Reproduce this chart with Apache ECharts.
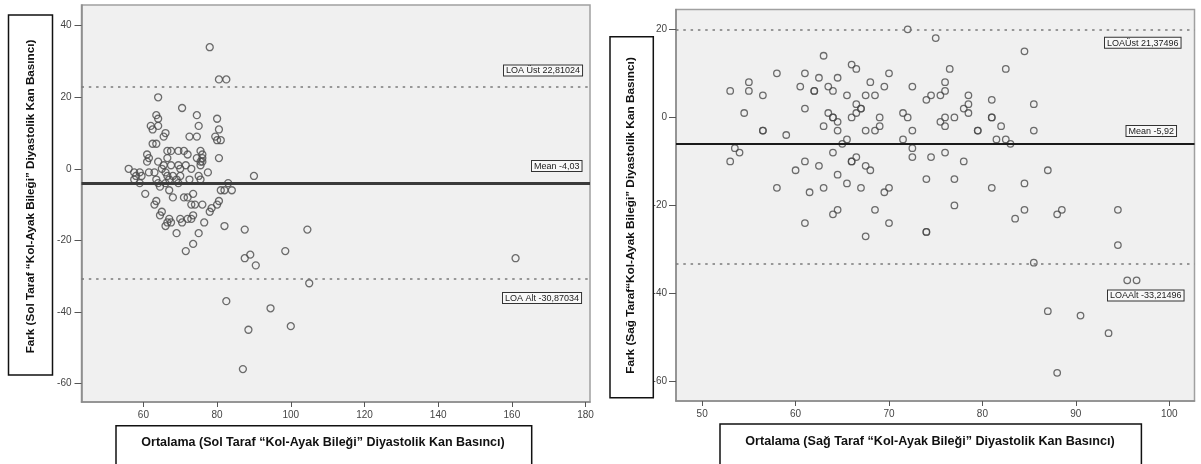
<!DOCTYPE html>
<html><head><meta charset="utf-8">
<script src="https://cdn.jsdelivr.net/npm/echarts@6/dist/echarts.min.js"></script>
<style>html,body{margin:0;padding:0;background:#fff}#c{width:1201px;height:464px}</style>
</head><body><div id="c"></div>
<script>
// ---------- DATA ----------
const leftPoints = [[78,34],[80.5,25],[82.5,25],[64,20],[70.5,17],[63.5,15],[64,14],[74.5,15],[80,14],[62,12],[64,12],[75,12],[62.5,11],[80.5,11],[65.5,9],[66,10],[72.5,9],[74.5,9],[79.5,9],[80,8],[81,8],[62.5,7],[63.5,7],[66.5,5],[67.5,5],[69.5,5],[71,5],[75.5,5],[61,4],[72,4],[76,4],[61.5,3],[66.5,3],[74.5,3],[80.5,3],[76,3],[61,2],[64,2],[75.5,2],[76,2],[65.5,1],[67.5,1],[69.5,1],[71.5,1],[75.5,1],[56,0],[65,0],[70,0],[73,0],[57.5,-1],[59,-1],[61.5,-1],[63,-1],[66,-1],[77.5,-1],[58,-2],[59.5,-2],[66.5,-2],[68,-2],[70,-2],[75,-2],[90,-2],[57.5,-3],[63.5,-3],[67,-3],[69,-3],[72.5,-3],[75.5,-3],[59,-4],[64,-4],[66,-4],[69.5,-4],[83,-4],[64.5,-5],[67,-6],[81,-6],[82,-6],[84,-6],[60.5,-7],[73.5,-7],[68,-8],[71,-8],[72,-8],[63.5,-9],[80.5,-9],[63,-10],[73,-10],[74,-10],[76,-10],[80,-10],[78.5,-11],[78,-12],[65,-12],[64.5,-13],[73.5,-13],[67,-14],[70,-14],[72,-14],[73,-14],[66.5,-15],[67.5,-15],[70.5,-15],[76.5,-15],[66,-16],[82,-16],[69,-18],[75,-18],[73.5,-21],[71.5,-23],[87.5,-17],[104.5,-17],[87.5,-25],[89,-24],[90.5,-27],[98.5,-23],[161,-25],[105,-32],[82.5,-37],[94.5,-39],[100,-44],[88.5,-45],[87,-56]];
const rightPoints = [[72,20],[75,18],[84.5,15],[63,14],[66,12],[66.5,11],[76.5,11],[82.5,11],[58,10],[61,10],[70,10],[62.5,9],[64.5,9],[55,8],[68,8],[76,8],[60.5,7],[63.5,7],[69.5,7],[72.5,7],[53,6],[55,6],[62,6],[62,6],[64,6],[76,6],[56.5,5],[65.5,5],[67.5,5],[68.5,5],[74.5,5],[75.5,5],[78.5,5],[74,4],[81,4],[66.5,3],[78.5,3],[85.5,3],[61,2],[67,2],[67,2],[78,2],[54.5,1],[63.5,1],[66.5,1],[71.5,1],[78.5,1],[64,0],[64,0],[66,0],[69,0],[72,0],[76,0],[77,0],[81,0],[81,0],[64.5,-1],[75.5,-1],[63,-2],[69,-2],[76,-2],[82,-2],[56.5,-3],[56.5,-3],[64.5,-3],[67.5,-3],[68.5,-3],[72.5,-3],[79.5,-3],[79.5,-3],[85.5,-3],[59,-4],[65.5,-5],[71.5,-5],[81.5,-5],[82.5,-5],[65,-6],[83,-6],[53.5,-7],[72.5,-7],[54,-8],[64,-8],[76,-8],[66.5,-9],[72.5,-9],[74.5,-9],[53,-10],[61,-10],[66,-10],[66,-10],[78,-10],[62.5,-11],[67.5,-11],[60,-12],[68,-12],[87,-12],[64.5,-13],[74,-14],[77,-14],[65.5,-15],[84.5,-15],[58,-16],[63,-16],[67,-16],[70,-16],[81,-16],[61.5,-17],[69.5,-17],[77,-20],[64.5,-21],[68.5,-21],[84.5,-21],[88.5,-21],[94.5,-21],[64,-22],[88,-22],[83.5,-23],[61,-24],[70,-24],[74,-26],[74,-26],[67.5,-27],[94.5,-29],[85.5,-33],[95.5,-37],[96.5,-37],[87,-44],[90.5,-45],[93.5,-49],[88,-58]];

const leftXTicks = [60,80,100,120,140,160,180];
const leftYTicks = [-60,-40,-20,0,20,40];
const rightXTicks = [50,60,70,80,90,100];
const rightYTicks = [-60,-40,-20,0,20];

const leftMean = -4.03, leftUpper = 22.81024, leftLower = -30.87034;
const rightMean = -5.92, rightUpperDrawn = 20, rightLower = -33.21496;

const leftLabels = ['LOA Üst 22,81024', 'Mean -4,03', 'LOA Alt -30,87034'];
const rightLabels = ['LOAÜst 21,37496', 'Mean -5,92', 'LOAAlt -33,21496'];

const leftXTitle = 'Ortalama (Sol Taraf “Kol-Ayak Bileği” Diyastolik Kan Basıncı)';
const leftYTitle = 'Fark (Sol Taraf “Kol-Ayak Bileği” Diyastolik Kan Basıncı)';
const rightXTitle = 'Ortalama (Sağ Taraf “Kol-Ayak Bileği” Diyastolik Kan Basıncı)';
const rightYTitle = 'Fark (Sağ Taraf“Kol-Ayak Bileği” Diyastolik Kan Basıncı)';

// ---------- CHART ----------
const FONT = "'Liberation Sans', Arial, sans-serif";
const axisColor = '#8a8a8a';

function xAxisCfg(idx, min, max, ticks){
  return {type:'value', gridIndex:idx, min:min, max:max, splitLine:{show:false},
    axisLine:{show:true, onZero:false, lineStyle:{color:axisColor, width:1.5}},
    axisTick:{show:true, length:5, customValues:ticks, lineStyle:{color:'#555', width:1}},
    axisLabel:{customValues:ticks, fontSize:10, color:'#444', fontFamily:FONT, margin:8}};
}
function yAxisCfg(idx, min, max, ticks, margin){
  return {type:'value', gridIndex:idx, min:min, max:max, splitLine:{show:false},
    axisLine:{show:true, onZero:false, lineStyle:{color:axisColor, width:1.5}},
    axisTick:{show:true, length:7, customValues:ticks, lineStyle:{color:'#555', width:1}},
    axisLabel:{customValues:ticks, fontSize:10, color:'#444', fontFamily:FONT, margin:margin}};
}
function scatterCfg(idx, pts, size, meanW, meanC, mean, up, low){
  const dot = {type:[2.5,4.8], width:1.5, color:'#7a7a7a'};
  return {type:'scatter', xAxisIndex:idx, yAxisIndex:idx, data:pts, symbol:'circle', symbolSize:size,
    itemStyle:{color:'rgba(0,0,0,0)', borderColor:'#4a4a4a', borderWidth:1.3},
    markLine:{silent:true, symbol:'none', animation:false, label:{show:false},
      data:[
        {yAxis:up, lineStyle:dot},
        {yAxis:low, lineStyle:dot},
        {yAxis:mean, lineStyle:{type:'solid', width:meanW, color:meanC}}
      ]}};
}
function labelBox(x, y, text){
  return {type:'text', x:x, y:y, z:100, style:{text:text, font:'9px '+FONT, fill:'#222',
    backgroundColor:'#f8f8f8', borderColor:'#333', borderWidth:1, padding:[1,2,0,2]}};
}
function titleBox(x, y, w, h){
  return {type:'rect', shape:{x:x, y:y, width:w, height:h}, z:50,
    style:{fill:'#fff', stroke:'#111', lineWidth:1.5}};
}
function titleText(x, y, text, rot, size){
  return {type:'text', x:x, y:y, rotation:rot||0, z:60,
    style:{text:text, font:'bold '+size+'px '+FONT, fill:'#111', align:'center', verticalAlign:'middle'}};
}

const chart = echarts.init(document.getElementById('c'));
chart.setOption({
  animation:false,
  backgroundColor:'#fff',
  grid:[
    {left:81.5, top:5, width:508.5, height:397, show:true, backgroundColor:'#f0f0f0', borderColor:'#a0a0a0', borderWidth:1.5, containLabel:false, outerBoundsMode:'none'},
    {left:676, top:9.5, width:518.5, height:391.5, show:true, backgroundColor:'#f0f0f0', borderColor:'#a0a0a0', borderWidth:1.5, containLabel:false, outerBoundsMode:'none'}
  ],
  xAxis:[xAxisCfg(0, 43.2, 181.2, leftXTicks), xAxisCfg(1, 47.2, 102.7, rightXTicks)],
  yAxis:[yAxisCfg(0, -65.2, 45.8, leftYTicks, 10), yAxisCfg(1, -64.4, 24.5, rightYTicks, 9)],
  series:[
    scatterCfg(0, leftPoints, 7, 3, '#3a3a3a', leftMean, leftUpper, leftLower),
    scatterCfg(1, rightPoints, 6.5, 2, '#1a1a1a', rightMean, rightUpperDrawn, rightLower)
  ],
  graphic:[
    titleBox(8.5, 15, 44, 360),
    titleText(30.7, 196.5, leftYTitle, Math.PI/2, 11.7),
    titleBox(116, 425.7, 415.7, 50),
    titleText(323, 443, leftXTitle, 0, 12.5),
    titleBox(610, 36.7, 43.3, 361),
    titleText(630.7, 215.5, rightYTitle, Math.PI/2, 11.8),
    titleBox(720, 424, 421.4, 50),
    titleText(930, 442, rightXTitle, 0, 12.6),
    labelBox(504, 65.5, leftLabels[0]),
    labelBox(532, 161, leftLabels[1]),
    labelBox(503, 293, leftLabels[2]),
    labelBox(1105, 37.7, rightLabels[0]),
    labelBox(1126.5, 126, rightLabels[1]),
    labelBox(1108, 290.5, rightLabels[2])
  ]
});
</script></body></html>
